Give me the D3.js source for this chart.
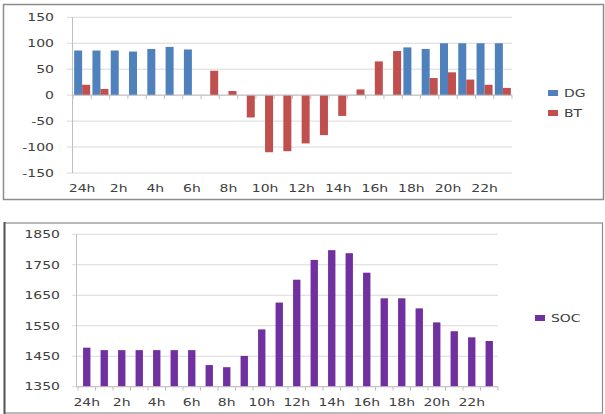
<!DOCTYPE html>
<html>
<head>
<meta charset="utf-8">
<script src="https://cdn.jsdelivr.net/npm/d3@7"></script>
<style>
  html, body { margin: 0; padding: 0; background: #fff; }
  svg { display: block; }
  text { font-family: "DejaVu Sans", Verdana, sans-serif; fill: #404040; }
</style>
</head>
<body>
<svg id="chart" width="605" height="414"></svg>
<script>
// Hourly categories (24h = midnight)
const hours = ["24h","1h","2h","3h","4h","5h","6h","7h","8h","9h","10h","11h",
               "12h","13h","14h","15h","16h","17h","18h","19h","20h","21h","22h","23h"];
// Diesel generator and battery power per hour
const dgValues = [86,86,86,84,89,93,88,0,0,0,0,0,0,0,0,0,0,0,92,89,100,100,100,100];
const btValues = [20,12,0,0,0,0,0,47,8,-43,-110,-108,-93,-77,-40,11,65,85,0,33,44,30,20,14];
// Battery state of charge per hour
const socValues = [1478,1470,1470,1470,1470,1470,1470,1421,1414,1451,1538,1626,
                   1701,1766,1798,1788,1724,1640,1640,1607,1561,1532,1512,1500];
const powerTicks = [-150,-100,-50,0,50,100,150];
const socTicks = [1350,1450,1550,1650,1750,1850];
const seriesNames = ["DG","BT"];
const seriesColors = {DG: "#4f81bd", BT: "#c0504d", SOC: "#7030a0"};

const svg = d3.select("#chart");
const gridColor = "#d9d9d9";
const axisColor = "#bfbfbf";
const fontSize = 10.5;
const stretch = 1.33;

// ---------- Top panel: DG / BT ----------
const powerPanel = svg.append("g");
powerPanel.append("rect").attr("x", 3.5).attr("y", 4.5).attr("width", 600).attr("height", 195)
  .attr("fill", "#fff").attr("stroke", "#8c8c8c").attr("stroke-width", 1.5);

const xTop = d3.scaleBand().domain(d3.range(hours.length)).range([73, 512])
  .paddingInner(0.125).paddingOuter(0.0625);
const xTopSub = d3.scaleBand().domain(seriesNames).range([0, xTop.bandwidth()]);
const yTop = d3.scaleLinear().domain([-150, 150]).range([173, 17.3]);

powerPanel.append("g").selectAll("line").data(powerTicks).join("line")
  .attr("x1", 67).attr("x2", 512)
  .attr("y1", d => yTop(d)).attr("y2", d => yTop(d))
  .attr("stroke", gridColor).attr("stroke-width", 1);
powerPanel.append("line").attr("x1", 72.5).attr("x2", 72.5)
  .attr("y1", yTop(150)).attr("y2", yTop(-150)).attr("stroke", axisColor);

powerPanel.append("g").selectAll("text").data(powerTicks).join("text")
  .attr("x", 54).attr("y", d => yTop(d)).attr("dy", "0.36em")
  .attr("text-anchor", "end").attr("font-size", fontSize).text(d => d);

const stepTop = xTop.step();
powerPanel.append("g").selectAll("line").data(d3.range(hours.length + 1)).join("line")
  .attr("x1", i => 73 + i * stepTop).attr("x2", i => 73 + i * stepTop)
  .attr("y1", yTop(0)).attr("y2", yTop(0) + 4).attr("stroke", axisColor);

const groups = powerPanel.append("g").selectAll("g").data(hours.map((h, i) => i)).join("g")
  .attr("transform", i => `translate(${xTop(i)},0)`);
groups.selectAll("rect").data(i => [
    {key: "DG", v: dgValues[i]}, {key: "BT", v: btValues[i]}
  ].filter(d => d.v !== 0)).join("rect")
  .attr("x", d => xTopSub(d.key)).attr("width", xTopSub.bandwidth())
  .attr("y", d => yTop(Math.max(0, d.v)))
  .attr("height", d => Math.abs(yTop(d.v) - yTop(0)))
  .attr("fill", d => seriesColors[d.key]);

powerPanel.append("line").attr("x1", 73).attr("x2", 512)
  .attr("y1", yTop(0)).attr("y2", yTop(0)).attr("stroke", axisColor);

powerPanel.append("g").selectAll("text").data(hours.filter((h, i) => i % 2 === 0)).join("text")
  .attr("x", h => xTop(hours.indexOf(h)) + xTop.bandwidth() / 2).attr("y", 192)
  .attr("text-anchor", "middle").attr("font-size", fontSize).text(h => h);

const legTop = powerPanel.append("g");
seriesNames.forEach((name, k) => {
  const ly = 93 + k * 20;
  legTop.append("rect").attr("x", 548).attr("y", ly - 3).attr("width", 10).attr("height", 6)
    .attr("fill", seriesColors[name]);
  legTop.append("text").attr("x", 564).attr("y", ly).attr("dy", "0.36em")
    .attr("font-size", fontSize).text(name);
});

// ---------- Bottom panel: SOC ----------
const socPanel = svg.append("g");
socPanel.append("rect").attr("x", 4.5).attr("y", 223).attr("width", 598).attr("height", 190)
  .attr("fill", "#fff").attr("stroke", "#8c8c8c").attr("stroke-width", 1.2);
socPanel.append("line").attr("x1", 4.5).attr("x2", 4.5).attr("y1", 222).attr("y2", 414)
  .attr("stroke", "#555").attr("stroke-width", 2);

const xBot = d3.scaleBand().domain(d3.range(hours.length)).range([78, 498])
  .paddingInner(0.58).paddingOuter(0.29);
const yBot = d3.scaleLinear().domain([1350, 1850]).range([386.7, 234.3]);

socPanel.append("g").selectAll("line").data(socTicks).join("line")
  .attr("x1", 72).attr("x2", 498)
  .attr("y1", d => yBot(d)).attr("y2", d => yBot(d))
  .attr("stroke", gridColor);
socPanel.append("line").attr("x1", 76.5).attr("x2", 76.5)
  .attr("y1", yBot(1850)).attr("y2", yBot(1350)).attr("stroke", axisColor);

socPanel.append("g").selectAll("text").data(socTicks).join("text")
  .attr("x", 60).attr("y", d => yBot(d)).attr("dy", "0.36em")
  .attr("text-anchor", "end").attr("font-size", fontSize).text(d => d);

const stepBot = xBot.step();
socPanel.append("g").selectAll("line").data(d3.range(hours.length + 1)).join("line")
  .attr("x1", i => 78 + i * stepBot).attr("x2", i => 78 + i * stepBot)
  .attr("y1", yBot(1350)).attr("y2", yBot(1350) + 4).attr("stroke", axisColor);

socPanel.append("g").selectAll("rect").data(socValues).join("rect")
  .attr("x", (d, i) => xBot(i)).attr("width", xBot.bandwidth())
  .attr("y", d => yBot(d)).attr("height", d => yBot(1350) - yBot(d))
  .attr("fill", seriesColors.SOC);

socPanel.append("line").attr("x1", 76).attr("x2", 498)
  .attr("y1", yBot(1350)).attr("y2", yBot(1350)).attr("stroke", axisColor);

socPanel.append("g").selectAll("text").data(hours.filter((h, i) => i % 2 === 0)).join("text")
  .attr("x", h => xBot(hours.indexOf(h)) + xBot.bandwidth() / 2).attr("y", 406)
  .attr("text-anchor", "middle").attr("font-size", fontSize).text(h => h);

socPanel.append("rect").attr("x", 535).attr("y", 315).attr("width", 10).attr("height", 6)
  .attr("fill", seriesColors.SOC);
socPanel.append("text").attr("x", 551).attr("y", 318).attr("dy", "0.36em")
  .attr("font-size", fontSize).text("SOC");

// Widen the glyphs horizontally
svg.selectAll("text").each(function() {
  const w = this.getComputedTextLength();
  d3.select(this).attr("textLength", w * stretch).attr("lengthAdjust", "spacingAndGlyphs");
});
</script>
</body>
</html>
